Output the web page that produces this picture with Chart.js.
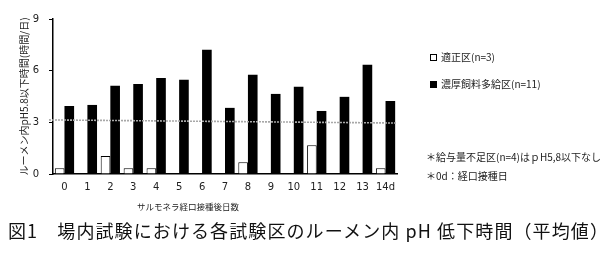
<!DOCTYPE html>
<html><head><meta charset="utf-8">
<script src="https://cdn.jsdelivr.net/npm/chart.js@4"></script>
<style>
html,body{margin:0;padding:0;background:#fff;}
#wrap{position:relative;width:613px;height:256px;overflow:hidden;font-family:"Noto Sans CJK JP","DejaVu Sans",sans-serif;color:#222;}
canvas{position:absolute;left:0;top:0;}
.t{position:absolute;white-space:nowrap;line-height:1;}
.box{position:absolute;width:5px;height:5px;border:1px solid #000;}
</style></head>
<body>
<div id="wrap">
<canvas id="c" width="613" height="256"></canvas>
<div class="box" style="left:430px;top:54px;background:#fff;"></div>
<div class="t" style="left:441px;top:52px;font-size:10px;">適正区(n=3)</div>
<div class="box" style="left:430px;top:81px;background:#000;"></div>
<div class="t" style="left:441px;top:79px;font-size:10px;">濃厚飼料多給区(n=11)</div>
<div class="t" style="left:426px;top:152px;font-size:10px;">＊給与量不足区(n=4)はｐH5,8以下なし</div>
<div class="t" style="left:426px;top:171px;font-size:10px;">＊0d：経口接種日</div>
<div class="t" style="left:137px;top:202px;font-size:8.5px;">サルモネラ経口接種後日数</div>
<div class="t" style="left:8px;top:221px;font-size:18px;letter-spacing:1.1px;color:#111;">図1　場内試験における各試験区のルーメン内 pH 低下時間（平均値）</div>
</div>
<script>
const categories = ["0","1","2","3","4","5","6","7","8","9","10","11","12","13","14d"];
const tekiseiValues = [0.33,0,1.05,0.33,0.33,0,0,0,0.68,0,0,1.67,0,0,0.33];
const noukouValues = [3.95,4.01,5.12,5.23,5.58,5.47,7.21,3.84,5.76,4.65,5.06,3.66,4.48,6.34,4.24];
const yTicks = [0,3,6,9];
const refLine = [3.14, 2.96];

const refPlugin = {
  id:'refLine',
  afterDatasetsDraw(chart){
    const {ctx, chartArea, scales:{y}} = chart;
    ctx.save();
    ctx.strokeStyle = '#a8a8a8';
    ctx.lineWidth = 1.6;
    ctx.setLineDash([2,1]);
    ctx.beginPath();
    ctx.moveTo(chartArea.left-4, y.getPixelForValue(refLine[0]));
    ctx.lineTo(chartArea.right, y.getPixelForValue(refLine[1]));
    ctx.stroke();
    ctx.restore();
  }
};

new Chart(document.getElementById('c'), {
  type:'bar',
  data:{
    labels:categories,
    datasets:[
      {label:'適正区(n=3)', data:tekiseiValues, backgroundColor:'#fff', borderColor:'#000', borderWidth:1, borderSkipped:'bottom'},
      {label:'濃厚飼料多給区(n=11)', data:noukouValues, backgroundColor:'#000', borderColor:'#000', borderWidth:0}
    ]
  },
  options:{
    responsive:false, animation:false,
    layout:{padding:{left:0, top:19, right:216, bottom:52}},
    datasets:{bar:{categoryPercentage:0.84, barPercentage:1.0}},
    plugins:{legend:{display:false}, tooltip:{enabled:false}},
    scales:{
      x:{
        grid:{display:false, drawTicks:false},
        border:{display:true, color:'#000', width:1.5},
        ticks:{padding:7, color:'#222', font:{family:'"DejaVu Sans"', size:10}, maxRotation:0, autoSkip:false},
        afterFit(s){ s.height = 30; }
      },
      y:{
        min:0, max:9,
        afterBuildTicks(s){ s.ticks = yTicks.map(v=>({value:v})); },
        grid:{display:true, drawOnChartArea:false, drawTicks:true, tickLength:4, color:'#000', lineWidth:1},
        border:{display:true, color:'#000', width:1.5},
        ticks:{padding:10, color:'#222', font:{family:'"DejaVu Sans"', size:10}},
        title:{display:true, text:'ルーメン内pH5.8以下時間(時間/日)', color:'#222', font:{family:'"Noto Sans CJK JP"', size:10}, padding:{top:18, bottom:0}},
        afterFit(s){ s.width = 53; }
      }
    }
  },
  plugins:[refPlugin]
});
</script>
</body></html>
